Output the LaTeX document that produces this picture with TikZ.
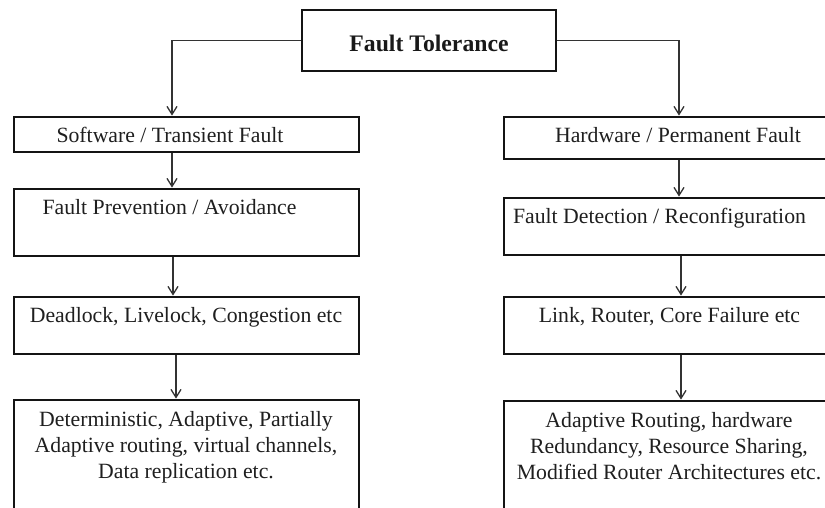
\documentclass[tikz,border=0pt]{standalone}
\usepackage{fontspec}
\setmainfont{Liberation Serif}
\usetikzlibrary{arrows.meta}
\begin{document}
\begin{tikzpicture}[x=1pt,y=-1pt,
  box/.style={draw=black!92,line width=2.8pt,rectangle,inner sep=0pt},
  lbl/.style={inner sep=0pt,anchor=base,font=\fontsize{21.75}{26}\selectfont,align=center,text=black!88},
  ttl/.style={inner sep=0pt,anchor=base,font=\fontsize{23.7}{28}\selectfont\bfseries,text=black!90},
  conn/.style={draw=black!80,line width=1.3pt,-{Straight Barb[length=8pt,width=10pt,line width=1.3pt]}}]
\useasboundingbox (0,0) rectangle (825,507);
\fill[white] (0,0) rectangle (825,507);
\clip (0,0) rectangle (825,507);
% boxes
\node[box,minimum width=254pt,minimum height=61pt] (top) at (429,40.5) {};
\node[box,minimum width=345pt,minimum height=35pt] (L1) at (186.5,134.5) {};
\node[box,minimum width=345pt,minimum height=67pt] (L2) at (186.5,222.5) {};
\node[box,minimum width=345pt,minimum height=57pt] (L3) at (186.5,325.5) {};
\node[box,minimum width=345pt,minimum height=112pt] (L4) at (186.5,456) {};
\node[box,minimum width=330pt,minimum height=42pt] (R1) at (669,138) {};
\node[box,minimum width=330pt,minimum height=57pt] (R2) at (669,226.5) {};
\node[box,minimum width=330pt,minimum height=57pt] (R3) at (669,325.5) {};
\node[box,minimum width=330pt,minimum height=111pt] (R4) at (669,456.5) {};
% texts
\node[ttl] (tt) at (429,51) {Fault Tolerance};
\node[lbl] (t1) at (170,142) {Software / Transient Fault};
\node[lbl] (t2) at (169.5,214) {Fault Prevention / Avoidance};
\node[lbl] (t3) at (186,322) {Deadlock, Livelock, Congestion etc};
\node[lbl] (t4) at (186,478) {Deterministic, Adaptive, Partially\\Adaptive routing, virtual channels,\\Data replication etc.};
\node[lbl] (r1) at (678,142) {Hardware / Permanent Fault};
\node[lbl] (r2) at (659.5,223) {Fault Detection / Reconfiguration};
\node[lbl] (r3) at (669.5,322) {Link, Router, Core Failure etc};
\node[lbl] (r4) at (669,479) {Adaptive Routing, hardware\\Redundancy, Resource Sharing,\\Modified Router Architectures etc.};
% connectors
\draw[conn] (top.west) -| ([xshift=-14.5pt]L1.north);
\draw[conn] (top.east) -| ([xshift=10pt]R1.north);
\draw[conn] ([xshift=-14.5pt]L1.south) -- ([xshift=-14.5pt]L2.north);
\draw[conn] ([xshift=-13.5pt]L2.south) -- ([xshift=-13.5pt]L3.north);
\draw[conn] ([xshift=-10.5pt]L3.south) -- ([xshift=-10.5pt]L4.north);
\draw[conn] ([xshift=10pt]R1.south) -- ([xshift=10pt]R2.north);
\draw[conn] ([xshift=12pt]R2.south) -- ([xshift=12pt]R3.north);
\draw[conn] ([xshift=12pt]R3.south) -- ([xshift=12pt]R4.north);
\end{tikzpicture}
\end{document}
